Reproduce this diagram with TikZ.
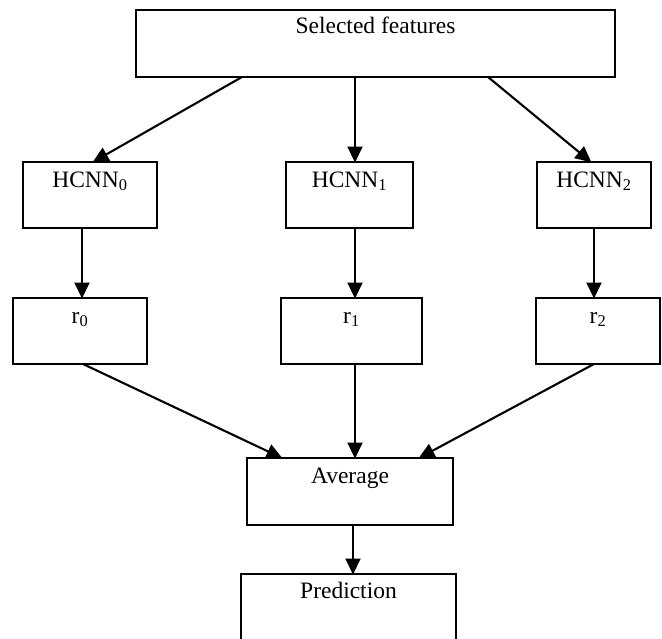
\documentclass[tikz,border=0pt]{standalone}
\usepackage{fontspec}
\setmainfont{Liberation Serif}
\usetikzlibrary{arrows.meta}
\tikzset{
  box/.style={draw, line width=1.6pt, rectangle, inner sep=0pt, outer sep=0pt},
  lbl/.style={anchor=base, inner sep=0pt, font=\fontsize{23.5}{28}\selectfont},
  conn/.style={line width=2.1pt, -{Triangle[length=16pt 0,width=15pt 0]}, shorten >=-0.5pt}
}
\begin{document}
\begin{tikzpicture}[x=1pt,y=-1pt]
\useasboundingbox (0,0) rectangle (662,638);
% boxes
\node[box, minimum width=479pt, minimum height=67pt] (sf) at (375.5,43.5) {};
\node[box, minimum width=134pt, minimum height=66pt] (h0) at (90,195) {};
\node[box, minimum width=127pt, minimum height=66pt] (h1) at (349.5,195) {};
\node[box, minimum width=114pt, minimum height=66pt] (h2) at (594,195) {};
\node[box, minimum width=134pt, minimum height=66pt] (r0) at (80,331) {};
\node[box, minimum width=141pt, minimum height=66pt] (r1) at (351.5,331) {};
\node[box, minimum width=124pt, minimum height=66pt] (r2) at (598,331) {};
\node[box, minimum width=206pt, minimum height=67pt] (av) at (350,491.5) {};
\node[box, minimum width=215pt, minimum height=68pt] (pr) at (348.5,608) {};
% labels
\node[lbl] (sft) at (375.5,33) {Selected features};
\node[lbl] (h0t) at (90,187) {HCNN\textsubscript{0}};
\node[lbl] (h1t) at (349.5,187) {HCNN\textsubscript{1}};
\node[lbl] (h2t) at (594,187) {HCNN\textsubscript{2}};
\node[lbl] (r0t) at (80,323) {r\textsubscript{0}};
\node[lbl] (r1t) at (351.5,323) {r\textsubscript{1}};
\node[lbl] (r2t) at (598,323) {r\textsubscript{2}};
\node[lbl] (avt) at (350,483) {Average};
\node[lbl] (prt) at (348.5,598) {Prediction};
% connectors
\draw[conn] ([xshift=106pt]sf.south west) -- ([xshift=70pt]h0.north west);
\draw[conn] ([xshift=219pt]sf.south west) -- ([xshift=69pt]h1.north west);
\draw[conn] ([xshift=352pt]sf.south west) -- ([xshift=54pt]h2.north west);
\draw[conn] ([xshift=59pt]h0.south west) -- ([xshift=69pt]r0.north west);
\draw[conn] ([xshift=69pt]h1.south west) -- ([xshift=74pt]r1.north west);
\draw[conn] ([xshift=57pt]h2.south west) -- ([xshift=58pt]r2.north west);
\draw[conn] ([xshift=70pt]r0.south west) -- ([xshift=35pt]av.north west);
\draw[conn] ([xshift=74pt]r1.south west) -- ([xshift=108pt]av.north west);
\draw[conn] ([xshift=58pt]r2.south west) -- ([xshift=172pt]av.north west);
\draw[conn] ([xshift=106pt]av.south west) -- ([xshift=112pt]pr.north west);
\end{tikzpicture}
\end{document}
